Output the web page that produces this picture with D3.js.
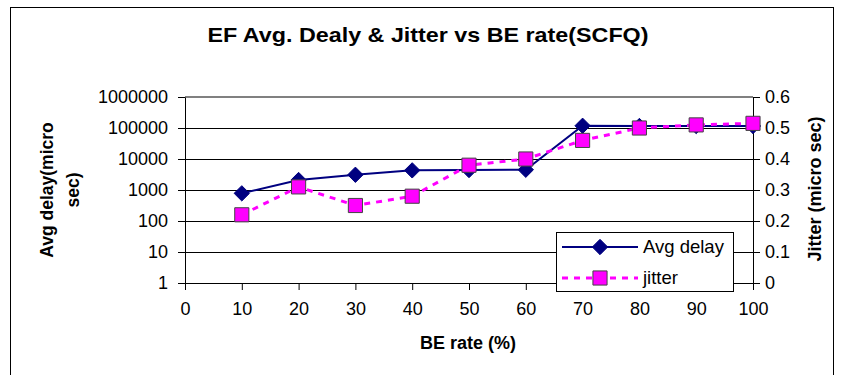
<!DOCTYPE html>
<html>
<head>
<meta charset="utf-8">
<script src="https://cdn.jsdelivr.net/npm/d3@7"></script>
<style>
  html, body { margin: 0; padding: 0; background: #fff; }
  svg { display: block; font-family: "Liberation Sans", Arial, sans-serif; }
</style>
</head>
<body>
<svg id="chart" width="841" height="375"></svg>
<script>
// BE rate (%) on the x axis
const beRate = [10, 20, 30, 40, 50, 60, 70, 80, 90, 100];
// EF average delay (micro sec), left log axis
const avgDelay = [780, 2100, 3100, 4300, 4400, 4500, 118000, 116000, 116000, 116000];
// EF jitter (micro sec), right axis
const jitter = [0.22, 0.31, 0.25, 0.28, 0.38, 0.40, 0.46, 0.50, 0.51, 0.515];

const xTicks = [0, 10, 20, 30, 40, 50, 60, 70, 80, 90, 100];
const leftTicks = [1, 10, 100, 1000, 10000, 100000, 1000000];
const rightTicks = [0, 0.1, 0.2, 0.3, 0.4, 0.5, 0.6];

const titleText = "EF Avg. Dealy & Jitter vs BE rate(SCFQ)";
const xTitle = "BE rate (%)";
const leftTitle = ["Avg delay(micro", "sec)"];
const rightTitle = "Jitter (micro sec)";
const seriesNames = ["Avg delay", "jitter"];

const svg = d3.select("#chart");
const plot = { left: 185, right: 753, top: 97, bottom: 283 };

const x = d3.scaleLinear().domain([0, 100]).range([plot.left, plot.right]);
const yL = d3.scaleLog().domain([1, 1000000]).range([plot.bottom, plot.top]);
const yR = d3.scaleLinear().domain([0, 0.6]).range([plot.bottom, plot.top]);

// outer frame
svg.append("rect").attr("x", 10.5).attr("y", 7.5).attr("width", 823).attr("height", 380)
  .attr("fill", "none").attr("stroke", "#000").attr("stroke-width", 1);

// title
svg.append("text").attr("x", 428).attr("y", 42).attr("text-anchor", "middle")
  .attr("font-size", 21).attr("font-weight", "bold")
  .attr("textLength", 441).attr("lengthAdjust", "spacingAndGlyphs").text(titleText);

// horizontal gridlines at each decade
svg.append("g").selectAll("line").data(leftTicks.slice(1, -1)).join("line")
  .attr("x1", plot.left).attr("x2", plot.right)
  .attr("y1", d => Math.round(yL(d)) + 0.5).attr("y2", d => Math.round(yL(d)) + 0.5)
  .attr("stroke", "#000").attr("stroke-width", 1);

// plot area top edge
svg.append("line").attr("x1", plot.left).attr("x2", plot.right)
  .attr("y1", plot.top).attr("y2", plot.top)
  .attr("stroke", "#808080").attr("stroke-width", 2);

// axes
const axisFont = g => g.selectAll("text").attr("font-size", 18).attr("font-family", "'Liberation Sans', Arial, sans-serif").attr("fill", "#000");
const axisStroke = g => { g.select(".domain").attr("stroke", "#000"); g.selectAll(".tick line").attr("stroke", "#000"); };

svg.append("g").attr("transform", `translate(${plot.left},0)`)
  .call(d3.axisLeft(yL).tickValues(leftTicks).tickFormat(d3.format("d")).tickSizeInner(7).tickSizeOuter(0).tickPadding(10))
  .call(axisFont).call(axisStroke);

svg.append("g").attr("transform", `translate(${plot.right},0)`)
  .call(d3.axisRight(yR).tickValues(rightTicks).tickFormat(d => d === 0 ? "0" : d3.format(".1f")(d)).tickSizeInner(7).tickSizeOuter(0).tickPadding(5))
  .call(axisFont).call(axisStroke);

svg.append("g").attr("transform", `translate(0,${plot.bottom})`)
  .call(d3.axisBottom(x).tickValues(xTicks).tickFormat(d3.format("d")).tickSizeInner(7).tickSizeOuter(0).tickPadding(12))
  .call(axisFont).call(axisStroke);

// axis titles
svg.append("text").attr("x", 468).attr("y", 349).attr("text-anchor", "middle")
  .attr("font-size", 18).attr("font-weight", "bold").text(xTitle);

const lt = svg.append("text").attr("transform", "translate(0,190) rotate(-90)")
  .attr("text-anchor", "middle").attr("font-size", 17.5).attr("font-weight", "bold");
lt.append("tspan").attr("x", 0).attr("y", 53).text(leftTitle[0]);
lt.append("tspan").attr("x", 0).attr("y", 79).text(leftTitle[1]);

svg.append("text").attr("transform", "translate(821,189) rotate(-90)")
  .attr("text-anchor", "middle").attr("font-size", 18).attr("font-weight", "bold").text(rightTitle);

// series
const delayPts = beRate.map((b, i) => [x(b), yL(avgDelay[i])]);
const jitterPts = beRate.map((b, i) => [x(b), yR(jitter[i])]);

const diamond = d3.symbol().type(d3.symbolDiamond2).size(150);
const square = d3.symbol().type(d3.symbolSquare).size(200);

svg.append("path").attr("d", d3.line()(delayPts))
  .attr("fill", "none").attr("stroke", "#000080").attr("stroke-width", 2);
svg.append("g").selectAll("path").data(delayPts).join("path")
  .attr("transform", d => `translate(${d[0]},${d[1]})`).attr("d", diamond)
  .attr("fill", "#000080").attr("stroke", "#000080").attr("stroke-width", 1);

svg.append("path").attr("d", d3.line()(jitterPts))
  .attr("fill", "none").attr("stroke", "#FF00FF").attr("stroke-width", 3).attr("stroke-dasharray", "6,6");
svg.append("g").selectAll("path").data(jitterPts).join("path")
  .attr("transform", d => `translate(${d[0]},${d[1]})`).attr("d", square)
  .attr("fill", "#FF00FF").attr("stroke", "#444").attr("stroke-width", 1);

// legend
const lg = svg.append("g");
lg.append("rect").attr("x", 556.5).attr("y", 232.5).attr("width", 177).attr("height", 59)
  .attr("fill", "#fff").attr("stroke", "#000").attr("stroke-width", 1);
const rows = [
  { y: 247, color: "#000080", width: 2, dash: null, sym: diamond, stroke: "#000080" },
  { y: 278, color: "#FF00FF", width: 3, dash: "6,6", sym: square, stroke: "#444" }
];
rows.forEach((r, i) => {
  lg.append("line").attr("x1", 562).attr("x2", 638).attr("y1", r.y).attr("y2", r.y)
    .attr("stroke", r.color).attr("stroke-width", r.width).attr("stroke-dasharray", r.dash);
  lg.append("path").attr("transform", `translate(600,${r.y})`).attr("d", r.sym)
    .attr("fill", r.color).attr("stroke", r.stroke).attr("stroke-width", 1);
  lg.append("text").attr("x", 643).attr("y", r.y + 6).attr("font-size", 18.5).text(seriesNames[i]);
});
</script>
</body>
</html>
